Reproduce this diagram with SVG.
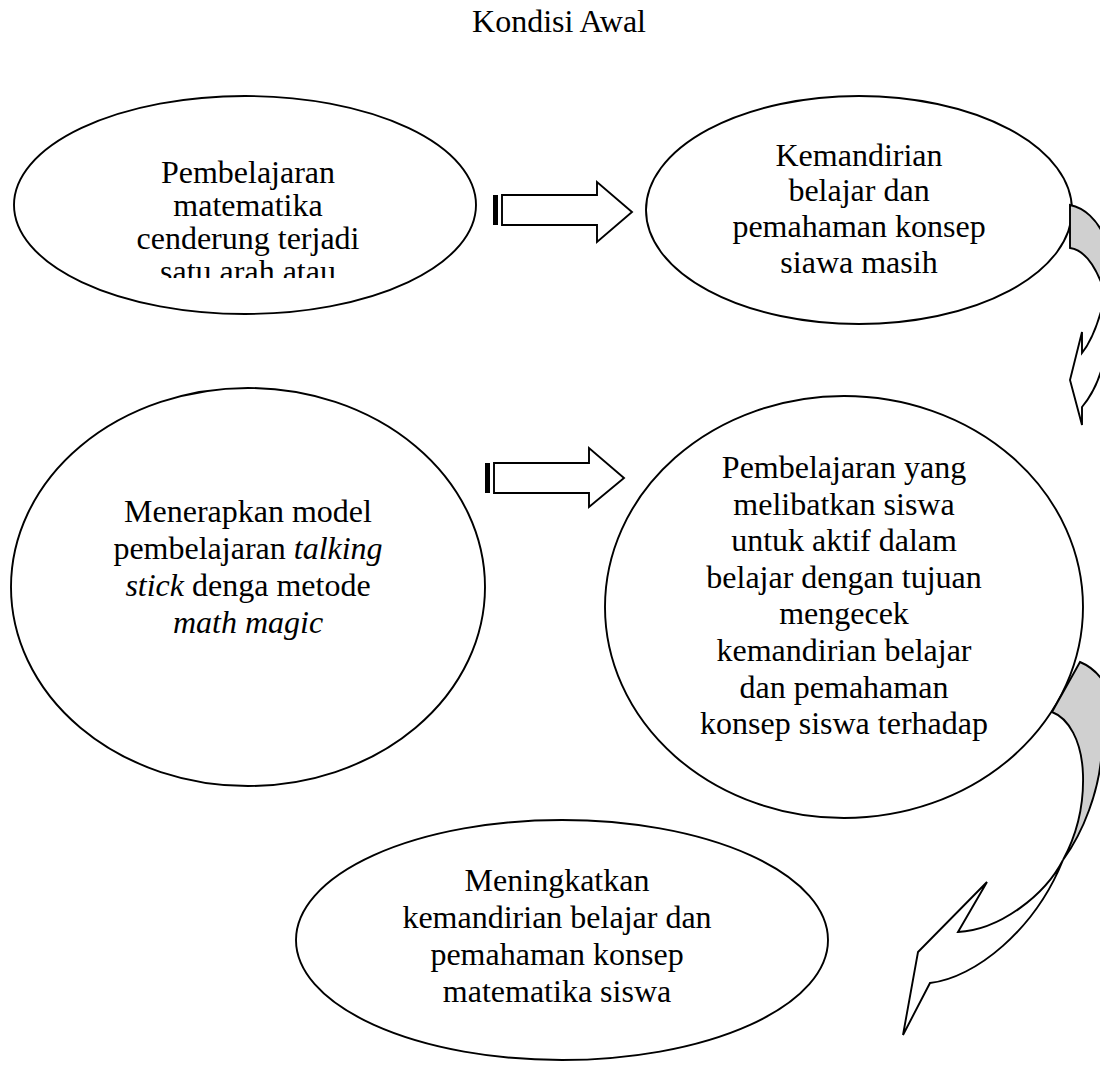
<svg xmlns="http://www.w3.org/2000/svg" width="1100" height="1065" viewBox="0 0 1100 1065">
<style>
.t{font-family:"Liberation Serif","Times New Roman",serif;font-size:32px;fill:#000;text-anchor:middle}
.i{font-style:italic}
.n{fill:#fff;stroke:#000;stroke-width:1.9}
.a{fill:#fff;stroke:#000;stroke-width:1.9;stroke-linejoin:miter}
.g{fill:#d0d0d0;stroke:#000;stroke-width:1.9}
</style>
<defs>
<clipPath id="c1"><rect x="0" y="100" width="520" height="178"/></clipPath>
</defs>
<rect width="1100" height="1065" fill="#fff"/>
<text class="t" x="559" y="32">Kondisi Awal</text>

<g id="node1">
<ellipse class="n" cx="245" cy="205" rx="231" ry="109"/>
<g clip-path="url(#c1)">
<text class="t" x="248" y="183">Pembelajaran</text>
<text class="t" x="248" y="216">matematika</text>
<text class="t" x="248" y="249">cenderung terjadi</text>
<text class="t" x="248" y="282">satu arah atau</text>
</g>
</g>

<g id="node2">
<ellipse class="n" cx="859" cy="210" rx="213" ry="114"/>
<text class="t" x="859" y="166">Kemandirian</text>
<text class="t" x="859" y="201">belajar dan</text>
<text class="t" x="859" y="237">pemahaman konsep</text>
<text class="t" x="859" y="273">siawa masih</text>
</g>

<g id="node3">
<ellipse class="n" cx="248" cy="587" rx="237" ry="199"/>
<text class="t" x="248" y="522">Menerapkan model</text>
<text class="t" x="248" y="559">pembelajaran <tspan class="i">talking</tspan></text>
<text class="t" x="248" y="596"><tspan class="i">stick</tspan> denga metode</text>
<text class="t i" x="248" y="633">math magic</text>
</g>

<g id="node4">
<ellipse class="n" cx="844" cy="607" rx="239" ry="211"/>
<text class="t" x="844" y="478">Pembelajaran yang</text>
<text class="t" x="844" y="515">melibatkan siswa</text>
<text class="t" x="844" y="551">untuk aktif dalam</text>
<text class="t" x="844" y="588">belajar dengan tujuan</text>
<text class="t" x="844" y="624">mengecek</text>
<text class="t" x="844" y="661">kemandirian belajar</text>
<text class="t" x="844" y="698">dan pemahaman</text>
<text class="t" x="844" y="734">konsep siswa terhadap</text>
</g>

<g id="node5">
<ellipse class="n" cx="562" cy="940" rx="266" ry="120"/>
<text class="t" x="557" y="891">Meningkatkan</text>
<text class="t" x="557" y="928">kemandirian belajar dan</text>
<text class="t" x="557" y="965">pemahaman konsep</text>
<text class="t" x="557" y="1002">matematika siswa</text>
</g>

<g id="connectors">
<g id="arrow1">
<rect x="493" y="195" width="5" height="30" fill="#000"/>
<polygon class="a" points="502,195 597,195 597,182 632,212 597,242 597,225 502,225"/>
</g>
<g id="arrow2">
<rect x="485" y="463" width="5" height="30" fill="#000"/>
<polygon class="a" points="494,463 589,463 589,448 624,478 589,507 589,493 494,493"/>
</g>
<g id="curve1">
<path class="g" d="M1070,205 C1085,208 1097,220 1104,236 L1104,290 C1097,270 1086,250 1070,248 Z"/>
<path class="a" d="M1104,300 C1098,325 1090,343 1082,353 L1082,332 L1070,380 L1082,425 L1082,407 C1092,395 1100,378 1104,360 Z"/>
</g>
<g id="curve2">
<path class="g" d="M1080,662 C1092,667 1100,675 1106,686 L1112,730 L1101,760 C1098,790 1085,830 1063,860 C1075,838 1084,810 1083,775 C1082,740 1068,718 1052,712 Z"/>
<path class="a" d="M1063,860 C1045,895 1000,930 958,932 L987,882 L918,952 L903,1035 L930,983 C975,978 1035,930 1063,860 Z"/>
</g>
</g>
</svg>
